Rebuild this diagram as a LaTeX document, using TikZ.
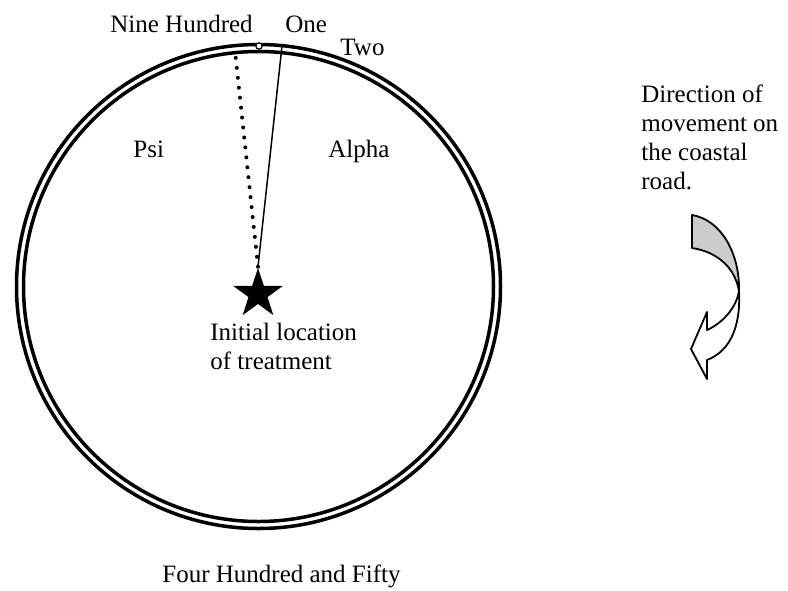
\documentclass[tikz,border=0pt]{standalone}
\usepackage{fontspec}
\setmainfont{Liberation Serif}
\usetikzlibrary{shapes.geometric}
\definecolor{bandgrey}{RGB}{204,204,204}

\begin{document}
\begin{tikzpicture}[x=0.5pt,y=-0.5pt,
	lbl/.style={inner sep=0, font=\fontsize{12.5}{14.5}\selectfont},
	ring/.style={line width=1.75pt},
	band/.style={line width=0.9pt, line join=round}]
			\useasboundingbox (0,0) rectangle (788,590);

			% double ring
			\draw [ring] (258.5,286.5) circle [radius=121pt];
			\draw [ring] (258.5,286.5) circle [radius=117.5pt];

			% star and gate
			\node[star, star points=5, star point ratio=2.6, fill, inner sep=0, minimum size=26pt] (treat) at (258,294) {};
			\node[circle, draw, fill=white, line width=0.6pt, inner sep=0, minimum size=3.2pt] (gate) at (259,46) {};

			% rays from the star
			\coordinate (rimone) at (282,46);
			\coordinate (rimpsi) at (235,51);
			\draw [line width=0.75pt] (treat.north) -- (rimone);
			\draw [line width=2pt, line cap=round, dash pattern=on 0pt off 5pt] (treat.north) -- (rimpsi);

			% ring labels
			\node[lbl, anchor=base west] (ninehundred) at (110,32) {Nine Hundred};
			\node[lbl, anchor=base west] (one) at (285,32) {One};
			\node[lbl, anchor=base west] (two) at (340,55) {Two};
			\node[lbl, anchor=base west] (psi) at (133,157) {Psi};
			\node[lbl, anchor=base west] (alpha) at (328,157) {Alpha};
			\node[lbl, anchor=north west, align=left] (initial) at (210,323) {Initial location\\of treatment};
			\node[lbl, anchor=base west] (fourfifty) at (162,582) {Four Hundred and Fifty};

			% direction note
			\node[lbl, anchor=north west, align=left] (direction) at (641,84) {Direction of\\movement on\\the coastal\\road.};

			% curved arrow
			\draw [band, fill=bandgrey] (692,215) .. controls (722,220) and (740,255) .. (739,291)
				.. controls (735,268) and (718,252) .. (692,248) -- cycle;
			\draw [band, fill=white] (739,291) .. controls (741,330) and (728,352) .. (707,360)
				-- (707,379) -- (691,349) -- (707,312) -- (707,330)
				.. controls (725,322) and (737,305) .. cycle;

		\end{tikzpicture}
\end{document}
